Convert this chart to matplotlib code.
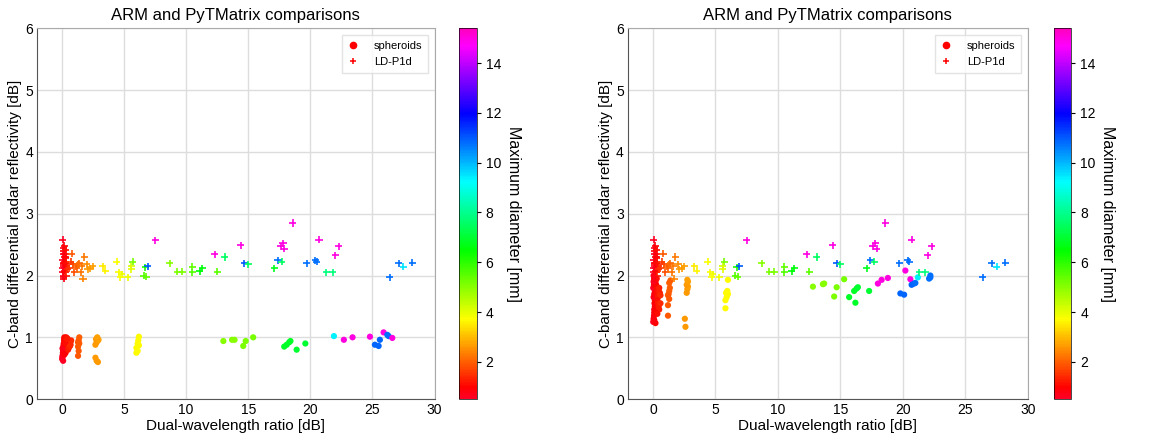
import numpy as np
import matplotlib
matplotlib.use("Agg")
import matplotlib.pyplot as plt
from matplotlib.lines import Line2D

plt.rcParams['font.family'] = ['Liberation Sans', 'DejaVu Sans']

# --- LD-P1d (same in both panels) ---
ld_x = [0.05, 0.1, 0.15, 0.2, 0.25, 0.3, 0.05, 0.1, 0.15, 0.2, 0.25, 0.3, 0.35, 0.05, 0.1,
        0.15, 0.2, 0.3, 0.4, 0.1, 0.2, 0.3, 0.05, 0.15, 0.25, 0.35, 0.45, 0.2, 0.1, 0.3,
        0.6, 0.8, 0.9, 1.0, 1.1, 1.2, 1.3, 1.5, 1.6, 1.7, 1.8, 2.0, 2.1, 2.3, 2.5, 0.7, 1.4,
        3.3, 3.5, 4.4, 4.6, 4.8, 4.7, 5.3, 5.7, 5.6, 5.6, 6.6, 6.8, 6.7, 6.9,
        7.5, 8.7, 9.3, 9.7, 10.5, 10.5, 11.1, 11.3, 12.3, 12.5, 13.1, 14.4, 14.7, 15.0,
        17.1, 17.4, 17.7, 17.6, 17.8, 17.9, 18.6, 19.7, 20.4, 20.5, 20.7, 21.3, 21.8,
        22.0, 22.3, 26.4, 27.1, 27.5, 28.2]
ld_y = [2.58, 2.45, 2.4, 2.48, 2.35, 2.3, 2.25, 2.2, 2.15, 2.12, 2.22, 2.28, 2.18, 2.05, 2.0,
        1.95, 2.08, 2.1, 2.15, 2.35, 2.3, 2.42, 2.12, 2.18, 2.05, 2.0, 2.1, 2.2, 1.98, 2.2,
        2.12, 2.35, 2.18, 2.05, 2.15, 2.12, 2.18, 2.05, 2.15, 1.95, 2.3, 2.18, 2.1, 2.12, 2.15, 2.22, 2.2,
        2.15, 2.08, 2.22, 2.05, 2.02, 1.97, 1.97, 2.22, 2.15, 2.1, 2.0, 1.98, 2.13, 2.15,
        2.57, 2.2, 2.06, 2.06, 2.14, 2.05, 2.07, 2.12, 2.34, 2.06, 2.3, 2.49, 2.2, 2.18,
        2.12, 2.25, 2.22, 2.47, 2.52, 2.43, 2.85, 2.2, 2.25, 2.22, 2.58, 2.05, 2.05,
        2.33, 2.47, 1.97, 2.2, 2.14, 2.21]
ld_d = [0.6, 0.7, 0.8, 0.9, 1.0, 1.1, 0.6, 0.7, 0.8, 0.9, 1.0, 1.1, 1.2, 0.6, 0.7,
        0.8, 0.9, 1.1, 1.3, 0.7, 0.9, 1.1, 0.6, 0.8, 1.0, 1.2, 1.4, 0.9, 0.7, 1.1,
        1.5, 1.9, 1.7, 1.8, 1.9, 2.0, 2.1, 2.2, 2.3, 2.4, 2.3, 2.5, 2.6, 2.6, 2.7, 1.6, 2.1,
        3.5, 3.6, 3.8, 3.8, 3.9, 3.8, 3.9, 5.2, 4.2, 4.0, 5.6, 5.4, 6.2, 11.0,
        15.0, 5.0, 5.1, 5.1, 5.4, 5.6, 6.5, 6.6, 15.0, 5.5, 7.5, 15.0, 11.0, 7.5,
        6.8, 10.8, 7.5, 15.0, 15.0, 15.0, 15.0, 10.8, 10.8, 10.8, 15.0, 7.8, 7.8,
        15.0, 15.0, 10.8, 10.8, 9.5, 10.8]

# --- spheroids, left panel ---
sph1_x = [0.02, 0.05, 0.08, 0.1, 0.12, 0.15, 0.18, 0.2, 0.05, 0.1, 0.15, 0.2, 0.25, 0.3, 0.35,
          0.4, 0.45, 0.5, 0.55, 0.6, 0.65, 0.7, 0.3, 0.4, 0.5, 0.6, 0.7, 0.75, 0.05, 0.1,
          0.2, 0.3, 0.45, 0.55, 0.65,
          1.3, 1.35, 1.3, 1.4, 1.35, 1.4, 1.3,
          2.7, 2.9, 2.8, 2.7, 2.8, 2.9, 2.75, 2.85, 2.95,
          6.2, 6.1, 6.2, 6.0, 6.1, 6.0, 6.15,
          13.0, 13.7, 13.9, 14.6, 14.8, 15.4,
          17.9, 18.1, 18.3, 18.4, 18.9, 19.6,
          21.9, 22.7, 23.4, 24.8, 25.2, 25.5, 25.6, 25.9, 26.2, 26.3, 26.6]
sph1_y = [0.65, 0.7, 0.75, 0.8, 0.85, 0.9, 0.95, 1.0, 0.68, 0.78, 0.88, 0.98, 0.92, 0.97, 1.0,
          0.95, 0.92, 0.96, 0.88, 0.94, 0.9, 0.93, 0.75, 0.85, 0.8, 0.85, 0.88, 0.95, 0.82, 0.62,
          0.72, 0.9, 0.98, 0.83, 0.86,
          0.7, 0.78, 0.85, 0.9, 0.95, 1.0, 0.92,
          0.67, 0.6, 0.62, 0.88, 0.92, 0.95, 0.97, 1.0, 0.96,
          1.01, 0.9, 0.87, 0.83, 0.78, 0.75, 0.95,
          0.94, 0.96, 0.96, 0.86, 0.94, 1.0,
          0.85, 0.88, 0.92, 0.94, 0.8, 0.9,
          1.02, 0.96, 1.0, 1.01, 0.88, 0.86, 0.96, 1.08, 1.04, 1.02, 0.99]
sph1_d = [0.6, 0.7, 0.8, 0.9, 0.9, 1.0, 1.0, 1.1, 0.6, 0.8, 0.9, 1.0, 1.0, 1.1, 1.1,
          1.2, 1.2, 1.3, 1.3, 1.3, 1.4, 1.4, 1.0, 1.1, 1.2, 1.3, 1.4, 1.4, 0.7, 0.6,
          0.9, 1.1, 1.2, 1.3, 1.4,
          1.9, 1.9, 1.9, 2.0, 1.9, 2.0, 1.9,
          2.6, 2.6, 2.6, 2.6, 2.6, 2.7, 2.6, 2.7, 2.7,
          3.7, 3.7, 3.7, 3.7, 3.7, 3.7, 3.7,
          5.0, 5.0, 5.0, 5.1, 5.1, 5.2,
          6.9, 6.9, 6.9, 6.9, 7.0, 7.0,
          9.4, 15.0, 15.0, 15.0, 10.9, 10.9, 10.9, 15.0, 10.8, 10.8, 15.0]

# --- spheroids, right panel ---
sph2_x = [0.02, 0.05, 0.08, 0.1, 0.12, 0.15, 0.05, 0.1, 0.15, 0.02, 0.08, 0.12, 0.05, 0.1, 0.15,
          0.2, 0.25, 0.3, 0.35, 0.4, 0.45, 0.5, 0.55, 0.6, 0.3, 0.35, 0.4, 0.45, 0.5, 0.6,
          0.25, 0.35, 0.2, 0.1, 0.05,
          1.2, 1.2, 1.3, 1.25, 1.3, 1.35, 1.3, 1.4, 1.2,
          2.55, 2.6, 2.7, 2.75, 2.8, 2.7, 2.8, 2.75,
          5.8, 5.8, 5.9, 6.0, 5.95, 5.85, 6.0,
          12.8, 13.6, 13.7, 14.5, 14.7, 15.3,
          15.7, 16.1, 16.2, 16.3, 16.4, 17.3,
          18.0, 18.3, 18.8, 19.8, 20.1, 20.2, 20.6, 20.7, 20.9, 21.0, 21.2, 22.1, 22.2, 22.2]
sph2_y = [1.25, 1.3, 1.35, 1.45, 1.55, 1.6, 1.65, 1.7, 1.75, 1.8, 1.85, 1.95, 2.0, 1.4, 1.5,
          1.9, 1.85, 1.78, 1.7, 1.65, 1.75, 1.8, 1.72, 1.68, 1.95, 1.6, 1.55, 1.5, 1.45, 1.55,
          1.4, 1.38, 1.23, 1.28, 1.9,
          1.35, 1.52, 1.62, 1.7, 1.75, 1.8, 1.88, 1.92, 1.68,
          1.3, 1.17, 1.72, 1.78, 1.82, 1.85, 1.9, 1.93,
          1.47, 1.6, 1.65, 1.7, 1.75, 1.72, 1.93,
          1.82, 1.86, 1.87, 1.66, 1.81, 1.94,
          1.65, 1.75, 1.56, 1.79, 1.81, 1.75,
          1.87, 1.93, 1.96, 1.71, 1.69, 2.08, 1.94, 1.85, 1.87, 1.88, 1.97, 1.95, 2.0, 1.97]
sph2_d = [0.6, 0.7, 0.8, 0.9, 0.9, 1.0, 0.7, 0.8, 0.9, 0.6, 0.8, 0.9, 0.7, 0.8, 0.9,
          1.0, 1.0, 1.1, 1.1, 1.2, 1.2, 1.3, 1.3, 1.4, 1.1, 1.1, 1.2, 1.2, 1.3, 1.4,
          1.0, 1.1, 1.0, 0.8, 0.7,
          1.9, 1.9, 1.9, 1.9, 2.0, 2.0, 2.0, 2.0, 1.9,
          2.6, 2.6, 2.6, 2.6, 2.7, 2.6, 2.7, 2.7,
          3.7, 3.7, 3.7, 3.7, 3.7, 3.7, 3.7,
          5.0, 5.0, 5.0, 5.1, 5.1, 5.2,
          6.9, 6.9, 6.9, 6.9, 7.0, 7.0,
          15.0, 15.0, 15.0, 10.9, 10.9, 15.0, 15.0, 10.9, 10.9, 10.8, 9.4, 10.8, 10.8, 10.8]

panels = [(sph1_x, sph1_y, sph1_d), (sph2_x, sph2_y, sph2_d)]

vmin, vmax = 0.5, 15.4
cmap = plt.get_cmap('gist_rainbow')

fig = plt.figure(figsize=(11.76, 4.42), dpi=100)
ax_rects = [[0.0315, 0.097, 0.338, 0.839], [0.534, 0.097, 0.340, 0.839]]
cb_rects = [[0.390, 0.097, 0.0153, 0.839], [0.896, 0.097, 0.0148, 0.839]]

for (sx, sy, sd), ar, cr in zip(panels, ax_rects, cb_rects):
    ax = fig.add_axes(ar)
    cax = fig.add_axes(cr)

    sc = ax.scatter(sx, sy, c=sd, cmap=cmap, vmin=vmin, vmax=vmax,
                    marker='o', s=20, linewidths=0, zorder=3)
    ax.scatter(ld_x, ld_y, c=ld_d, cmap=cmap, vmin=vmin, vmax=vmax,
               marker='+', s=26, linewidths=1.2, zorder=3)

    ax.set_xlim(-2, 30)
    ax.set_ylim(0, 6)
    ax.set_xticks([0, 5, 10, 15, 20, 25, 30])
    ax.set_yticks([0, 1, 2, 3, 4, 5, 6])
    ax.grid(True, color='#dddddd', linewidth=1)
    ax.set_axisbelow(True)
    ax.tick_params(length=0, labelsize=10, pad=3)
    for side in ['left', 'bottom']:
        ax.spines[side].set_color('#555555')
    for side in ['top', 'right']:
        ax.spines[side].set_color('#aaaaaa')

    ax.set_title("ARM and PyTMatrix comparisons", fontsize=12, pad=6)
    ax.set_xlabel("Dual-wavelength ratio [dB]", fontsize=11, labelpad=1)
    ax.set_ylabel("C-band differential radar reflectivity [dB]", fontsize=11, labelpad=2)

    handles = [Line2D([], [], marker='o', color='red', linestyle='none', markersize=4.5),
               Line2D([], [], marker='+', color='red', linestyle='none', markersize=4.5,
                      markeredgewidth=1.1)]
    leg = ax.legend(handles, ['spheroids', 'LD-P1d'], loc='upper right', fontsize=8,
                    frameon=True, handlelength=1.0, handletextpad=1.4, labelspacing=0.6,
                    borderpad=0.5, fancybox=False, borderaxespad=0.6)
    leg.get_frame().set_edgecolor('#dddddd')

    cb = fig.colorbar(sc, cax=cax)
    cb.set_ticks([2, 4, 6, 8, 10, 12, 14])
    cb.ax.tick_params(labelsize=10, length=3)
    cb.outline.set_linewidth(0.5)
    cb.set_label("Maximum diameter [mm]", fontsize=11.5, rotation=270, labelpad=14)

fig.savefig("out.png", dpi=100)
